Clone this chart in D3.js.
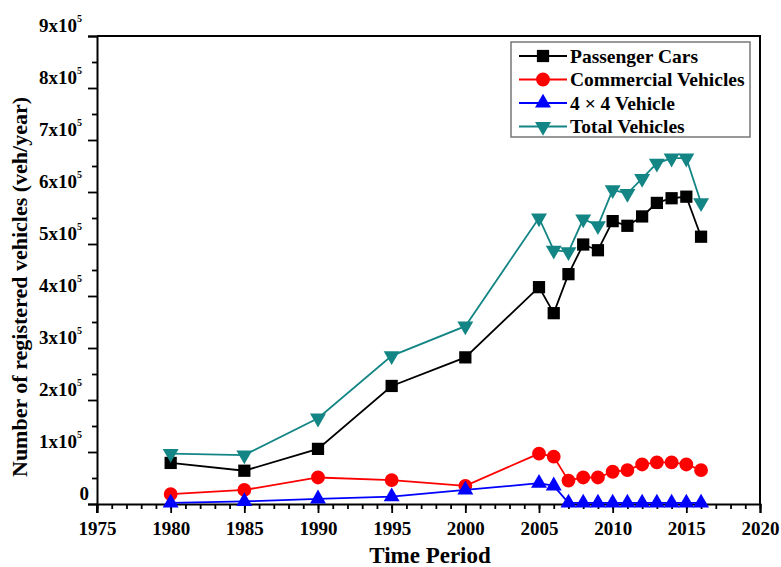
<!DOCTYPE html>
<html>
<head>
<meta charset="utf-8">
<script src="https://cdn.jsdelivr.net/npm/d3@7"></script>
<style>
  body { margin: 0; background: #fff; }
  text { font-family: "Liberation Serif", "Times New Roman", serif; font-weight: bold; }
</style>
</head>
<body>
<svg id="chart" width="781" height="567"></svg>
<script>
const years = [1980, 1985, 1990, 1995, 2000, 2005, 2006, 2007, 2008, 2009,
               2010, 2011, 2012, 2013, 2014, 2015, 2016];
const passengerCars = [79000, 64000, 106000, 227000, 282000, 417000, 367000, 442000, 499000, 488000,
                       544000, 535000, 553000, 579000, 588000, 591000, 514000];
const commercial = [19000, 27000, 51000, 46000, 35000, 97000, 91000, 45000, 51000, 51000,
                    62000, 65000, 76000, 80000, 80000, 76000, 65000];
const fourByFour = [2000, 5000, 10000, 14000, 27000, 40000, 35000, 2000, 2000, 2000,
                    2000, 2000, 2000, 2000, 2000, 2000, 2000];
const totalVehicles = [97000, 94000, 165000, 285000, 342000, 550000, 488000, 485000, 548000, 535000,
                       604000, 597000, 626000, 655000, 665000, 665000, 579000];
const yTicks = [0, 1, 2, 3, 4, 5, 6, 7, 8, 9];
const xTicks = [1975, 1980, 1985, 1990, 1995, 2000, 2005, 2010, 2015, 2020];

const series = [
  { name: "Passenger Cars", values: passengerCars, color: "#000000", symbol: d3.symbolSquare, size: 150, rot: 0 },
  { name: "Commercial Vehicles", values: commercial, color: "#ff0000", symbol: d3.symbolCircle, size: 150, rot: 0 },
  { name: "4 \u00d7 4 Vehicle", values: fourByFour, color: "#0000ff", symbol: d3.symbolTriangle, size: 110, rot: 0 },
  { name: "Total Vehicles", values: totalVehicles, color: "#138585", symbol: d3.symbolTriangle, size: 110, rot: 180 }
];

const svg = d3.select("#chart");
const pLeft = 97, pRight = 760, pTop = 36, pBottom = 504;

const x = d3.scaleLinear().domain([1975, 2020]).range([pLeft, pRight]);
const y = d3.scaleLinear().domain([0, 900000]).range([pBottom, pTop]);

// frame (top and right)
svg.append("path")
  .attr("d", `M${pLeft},${pTop}H${pRight}V${pBottom}`)
  .attr("fill", "none").attr("stroke", "#000").attr("stroke-width", 2);

// x axis
const xAxis = svg.append("g").attr("transform", `translate(0,${pBottom})`);
xAxis.append("g").call(d3.axisBottom(x).tickValues(d3.range(1975, 2021, 1)).tickSize(5).tickFormat(""))
  .call(g => g.select(".domain").remove());
xAxis.append("g").call(d3.axisBottom(x).tickValues(xTicks).tickSize(9).tickFormat(d3.format("d")).tickPadding(9))
  .call(g => g.select(".domain").attr("stroke-width", 2))
  .call(g => g.selectAll(".tick text").attr("font-size", 19).attr("font-family", "Liberation Serif").attr("font-weight", "bold").attr("fill", "#000"));
xAxis.selectAll(".tick line").attr("stroke-width", 1.8);

// y axis
const yAxis = svg.append("g").attr("transform", `translate(${pLeft},0)`);
yAxis.append("g").call(d3.axisLeft(y).tickValues(d3.range(50000, 900000, 100000)).tickSize(5).tickFormat(""))
  .call(g => g.select(".domain").remove());
yAxis.append("g").call(d3.axisLeft(y).tickValues(yTicks.map(d => d * 100000)).tickSize(9).tickFormat(""))
  .call(g => g.select(".domain").attr("stroke-width", 2));
yAxis.selectAll(".tick line").attr("stroke-width", 1.8);
// extend y axis down to the x major tick
svg.append("line").attr("x1", pLeft).attr("x2", pLeft).attr("y1", pBottom).attr("y2", pBottom + 9)
  .attr("stroke", "#000").attr("stroke-width", 2);

// y tick labels with superscript
const yl = svg.append("g").selectAll("text").data(yTicks).join("text")
  .attr("x", d => d === 0 ? 89 : 82)
  .attr("y", d => y(d * 100000) - 4)
  .attr("text-anchor", "end")
  .attr("font-size", 19);
yl.each(function(d) {
  const t = d3.select(this);
  if (d === 0) { t.text("0"); return; }
  t.append("tspan").text(d + "x10");
  t.append("tspan").attr("dy", -10).attr("font-size", 10).text("5");
});

// axis titles
svg.append("text").attr("x", 430).attr("y", 563).attr("text-anchor", "middle")
  .attr("font-size", 23).text("Time Period");
svg.append("text").attr("transform", "translate(27,287) rotate(-90)").attr("text-anchor", "middle")
  .attr("font-size", 22).text("Number of registered vehicles (veh/year)");

// lines and markers
const line = d3.line().x((d, i) => x(years[i])).y(d => y(d));
series.forEach(s => {
  svg.append("path").datum(s.values)
    .attr("d", line).attr("fill", "none").attr("stroke", s.color).attr("stroke-width", 1.8);
  svg.append("g").selectAll("path").data(s.values).join("path")
    .attr("d", d3.symbol().type(s.symbol).size(s.size))
    .attr("transform", (d, i) => `translate(${x(years[i])},${y(d)}) rotate(${s.rot})`)
    .attr("fill", s.color);
});

// legend
const lg = svg.append("g");
lg.append("rect").attr("x", 511).attr("y", 42).attr("width", 239).attr("height", 95)
  .attr("fill", "#fff").attr("stroke", "#777").attr("stroke-width", 1.5);
series.forEach((s, i) => {
  const ly = 56 + i * 23.5;
  lg.append("line").attr("x1", 519).attr("x2", 567).attr("y1", ly).attr("y2", ly)
    .attr("stroke", s.color).attr("stroke-width", 1.8);
  lg.append("path")
    .attr("d", d3.symbol().type(s.symbol).size(s.size))
    .attr("transform", `translate(543,${ly}) rotate(${s.rot})`).attr("fill", s.color);
  lg.append("text").attr("x", 570).attr("y", ly + 6.5).attr("font-size", 19.5).text(s.name);
});
</script>
</body>
</html>
